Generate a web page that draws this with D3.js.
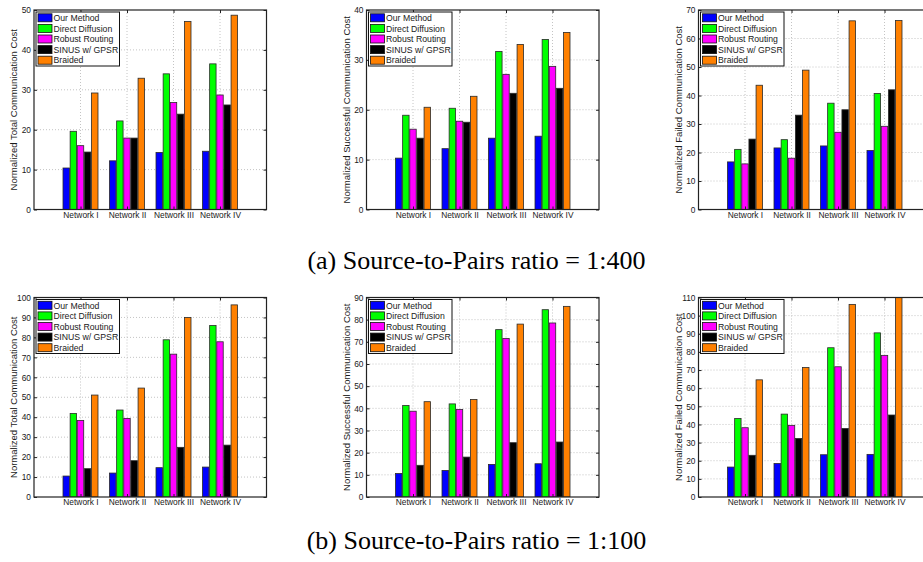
<!DOCTYPE html>
<html>
<head>
<meta charset="utf-8">
<script src="https://cdn.jsdelivr.net/npm/d3@7"></script>
<style>
  body { margin: 0; background: #fff; }
  svg { display: block; }
  text { font-family: "Liberation Sans", Arial, Helvetica, sans-serif; fill: #1a1a1a; }
  .caption { font-family: "Liberation Serif", "Times New Roman", serif; fill: #000; }
</style>
</head>
<body>
<svg id="chart"></svg>
<script>
var networks = ["Network I", "Network II", "Network III", "Network IV"];
var methods = ["Our Method", "Direct Diffusion", "Robust Routing", "SINUS w/ GPSR", "Braided"];
var methodColors = ["#0000ff", "#00ff00", "#ff00ff", "#000000", "#ff8000"];

// one row per method, one value per network
var totalCost400 = [
  [10.4, 12.2, 14.3, 14.6],
  [19.6, 22.2, 34.0, 36.5],
  [16.0, 17.9, 26.8, 28.7],
  [14.4, 17.9, 23.9, 26.2],
  [29.2, 32.9, 47.1, 48.7]
];
var successCost400 = [
  [10.3, 12.2, 14.3, 14.7],
  [18.9, 20.3, 31.7, 34.1],
  [16.1, 17.7, 27.1, 28.7],
  [14.3, 17.5, 23.3, 24.3],
  [20.5, 22.7, 33.1, 35.5]
];
var failedCost400 = [
  [16.7, 21.6, 22.3, 20.7],
  [21.1, 24.5, 37.3, 40.7],
  [16.0, 18.0, 27.1, 29.2],
  [24.7, 33.1, 35.0, 42.0],
  [43.6, 48.9, 66.2, 66.3]
];
var totalCost100 = [
  [10.5, 12.0, 14.7, 15.0],
  [41.9, 43.6, 78.8, 86.0],
  [38.4, 39.4, 71.6, 77.8],
  [14.2, 18.2, 24.9, 26.0],
  [51.1, 54.6, 90.0, 96.3]
];
var successCost100 = [
  [10.6, 12.0, 14.7, 15.0],
  [41.3, 42.0, 75.5, 84.5],
  [38.7, 39.5, 71.5, 78.5],
  [14.3, 18.0, 24.5, 24.8],
  [43.0, 44.0, 78.0, 86.0]
];
var failedCost100 = [
  [16.5, 18.5, 23.3, 23.5],
  [43.3, 45.7, 82.3, 90.5],
  [38.2, 39.5, 71.8, 78.1],
  [23.0, 32.3, 37.8, 45.2],
  [64.6, 71.4, 106.2, 113.0]
];

var yMaxes = [50, 40, 70, 100, 90, 110];
var yLabels = [
  "Normalized Total Communication Cost",
  "Normalized Successful Communication Cost",
  "Normalized Failed Communication Cost",
  "Normalized Total Communication Cost",
  "Normalized Successful Communication Cost",
  "Normalized Failed Communication Cost"
];
var captions = ["(a) Source-to-Pairs ratio = 1:400", "(b) Source-to-Pairs ratio = 1:100"];

var panelData = [totalCost400, successCost400, failedCost400, totalCost100, successCost100, failedCost100];

var width = 923, height = 562;
var svg = d3.select("#chart").attr("width", width).attr("height", height);
svg.append("rect").attr("width", width).attr("height", height).attr("fill", "#fff");

var colLeft = [34, 366.5, 698.5];
var rowTop = [10, 297.5];
var pw = 232.5, ph = 199.5;

function drawPanel(i) {
  var data = panelData[i];
  var left = colLeft[i % 3], top = rowTop[Math.floor(i / 3)];
  var g = svg.append("g").attr("transform", "translate(" + left + "," + top + ")");

  var x = d3.scaleLinear().domain([0, 5]).range([0, pw]);
  var y = d3.scaleLinear().domain([0, yMaxes[i]]).range([ph, 0]);
  var inner = d3.scaleBand().domain(d3.range(methods.length)).range([-17.5, 17.5]).paddingInner(0.1);
  var yTicks = d3.range(0, yMaxes[i] + 1, 10);

  var clipId = "clip" + i;
  g.append("clipPath").attr("id", clipId)
    .append("rect").attr("width", pw).attr("height", ph);

  // dotted grid
  var grid = g.append("g").attr("stroke", "#c4c4c4").attr("stroke-dasharray", "1,2").attr("stroke-width", 1);
  grid.selectAll(".gy").data(yTicks.slice(1, -1)).enter().append("line")
    .attr("x1", 0).attr("x2", pw).attr("y1", d => y(d)).attr("y2", d => y(d));
  grid.selectAll(".gx").data([1, 2, 3, 4]).enter().append("line")
    .attr("y1", 0).attr("y2", ph).attr("x1", d => x(d)).attr("x2", d => x(d));

  // bars
  var bars = g.append("g").attr("clip-path", "url(#" + clipId + ")");
  data.forEach(function (vals, m) {
    bars.selectAll(".b" + m).data(vals).enter().append("rect")
      .attr("x", (d, k) => x(k + 1) + inner(m))
      .attr("width", inner.bandwidth())
      .attr("y", d => y(d))
      .attr("height", d => y(0) - y(d))
      .attr("fill", methodColors[m])
      .attr("stroke", "#2a2a2a")
      .attr("stroke-width", 0.8);
  });

  // axes with inward ticks
  var ax = g.append("g");
  ax.append("g")
    .call(d3.axisLeft(y).tickValues(yTicks).tickSize(-3).tickPadding(3))
    .call(s => s.select(".domain").remove());
  ax.append("g").attr("transform", "translate(" + pw + ",0)")
    .call(d3.axisRight(y).tickValues(yTicks).tickSize(-3).tickFormat(""))
    .call(s => s.select(".domain").remove());
  ax.append("g").attr("transform", "translate(0," + ph + ")")
    .call(d3.axisBottom(x).tickValues([1, 2, 3, 4]).tickFormat(d => networks[d - 1]).tickSize(-3).tickPadding(2.5))
    .call(s => s.select(".domain").remove());
  ax.append("g")
    .call(d3.axisTop(x).tickValues([1, 2, 3, 4]).tickSize(-3).tickFormat(""))
    .call(s => s.select(".domain").remove());
  ax.selectAll("text")
    .attr("font-family", "Liberation Sans, Arial, sans-serif")
    .attr("font-size", 8.4)
    .attr("fill", "#1a1a1a");
  ax.selectAll(".tick line").attr("stroke", "#222");

  g.append("rect").attr("width", pw).attr("height", ph)
    .attr("fill", "none").attr("stroke", "#222").attr("stroke-width", 1.2);

  // y label
  g.append("text")
    .attr("transform", "translate(-17," + (ph / 2) + ") rotate(-90)")
    .attr("text-anchor", "middle")
    .attr("font-size", 9.5)
    .text(yLabels[i]);

  // legend
  var lg = g.append("g").attr("transform", "translate(2,2)");
  lg.append("rect").attr("width", 83.5).attr("height", 54)
    .attr("fill", "#fff").attr("stroke", "#111").attr("stroke-width", 1);
  var rows = lg.selectAll(".row").data(methods).enter().append("g")
    .attr("transform", (d, k) => "translate(0," + (5.8 + k * 10.6) + ")");
  rows.append("rect").attr("x", 2).attr("y", -4).attr("width", 14).attr("height", 8)
    .attr("fill", (d, k) => methodColors[k]).attr("stroke", "#111").attr("stroke-width", 0.8);
  rows.append("text").attr("x", 17.5).attr("y", 3.2).attr("font-size", 8.7).text(d => d);
}

d3.range(6).forEach(drawPanel);

svg.selectAll(".caption").data(captions).enter().append("text")
  .attr("class", "caption")
  .attr("x", 476.5)
  .attr("y", (d, k) => [269, 549][k])
  .attr("text-anchor", "middle")
  .attr("font-size", 26)
  .text(d => d);
</script>
</body>
</html>
